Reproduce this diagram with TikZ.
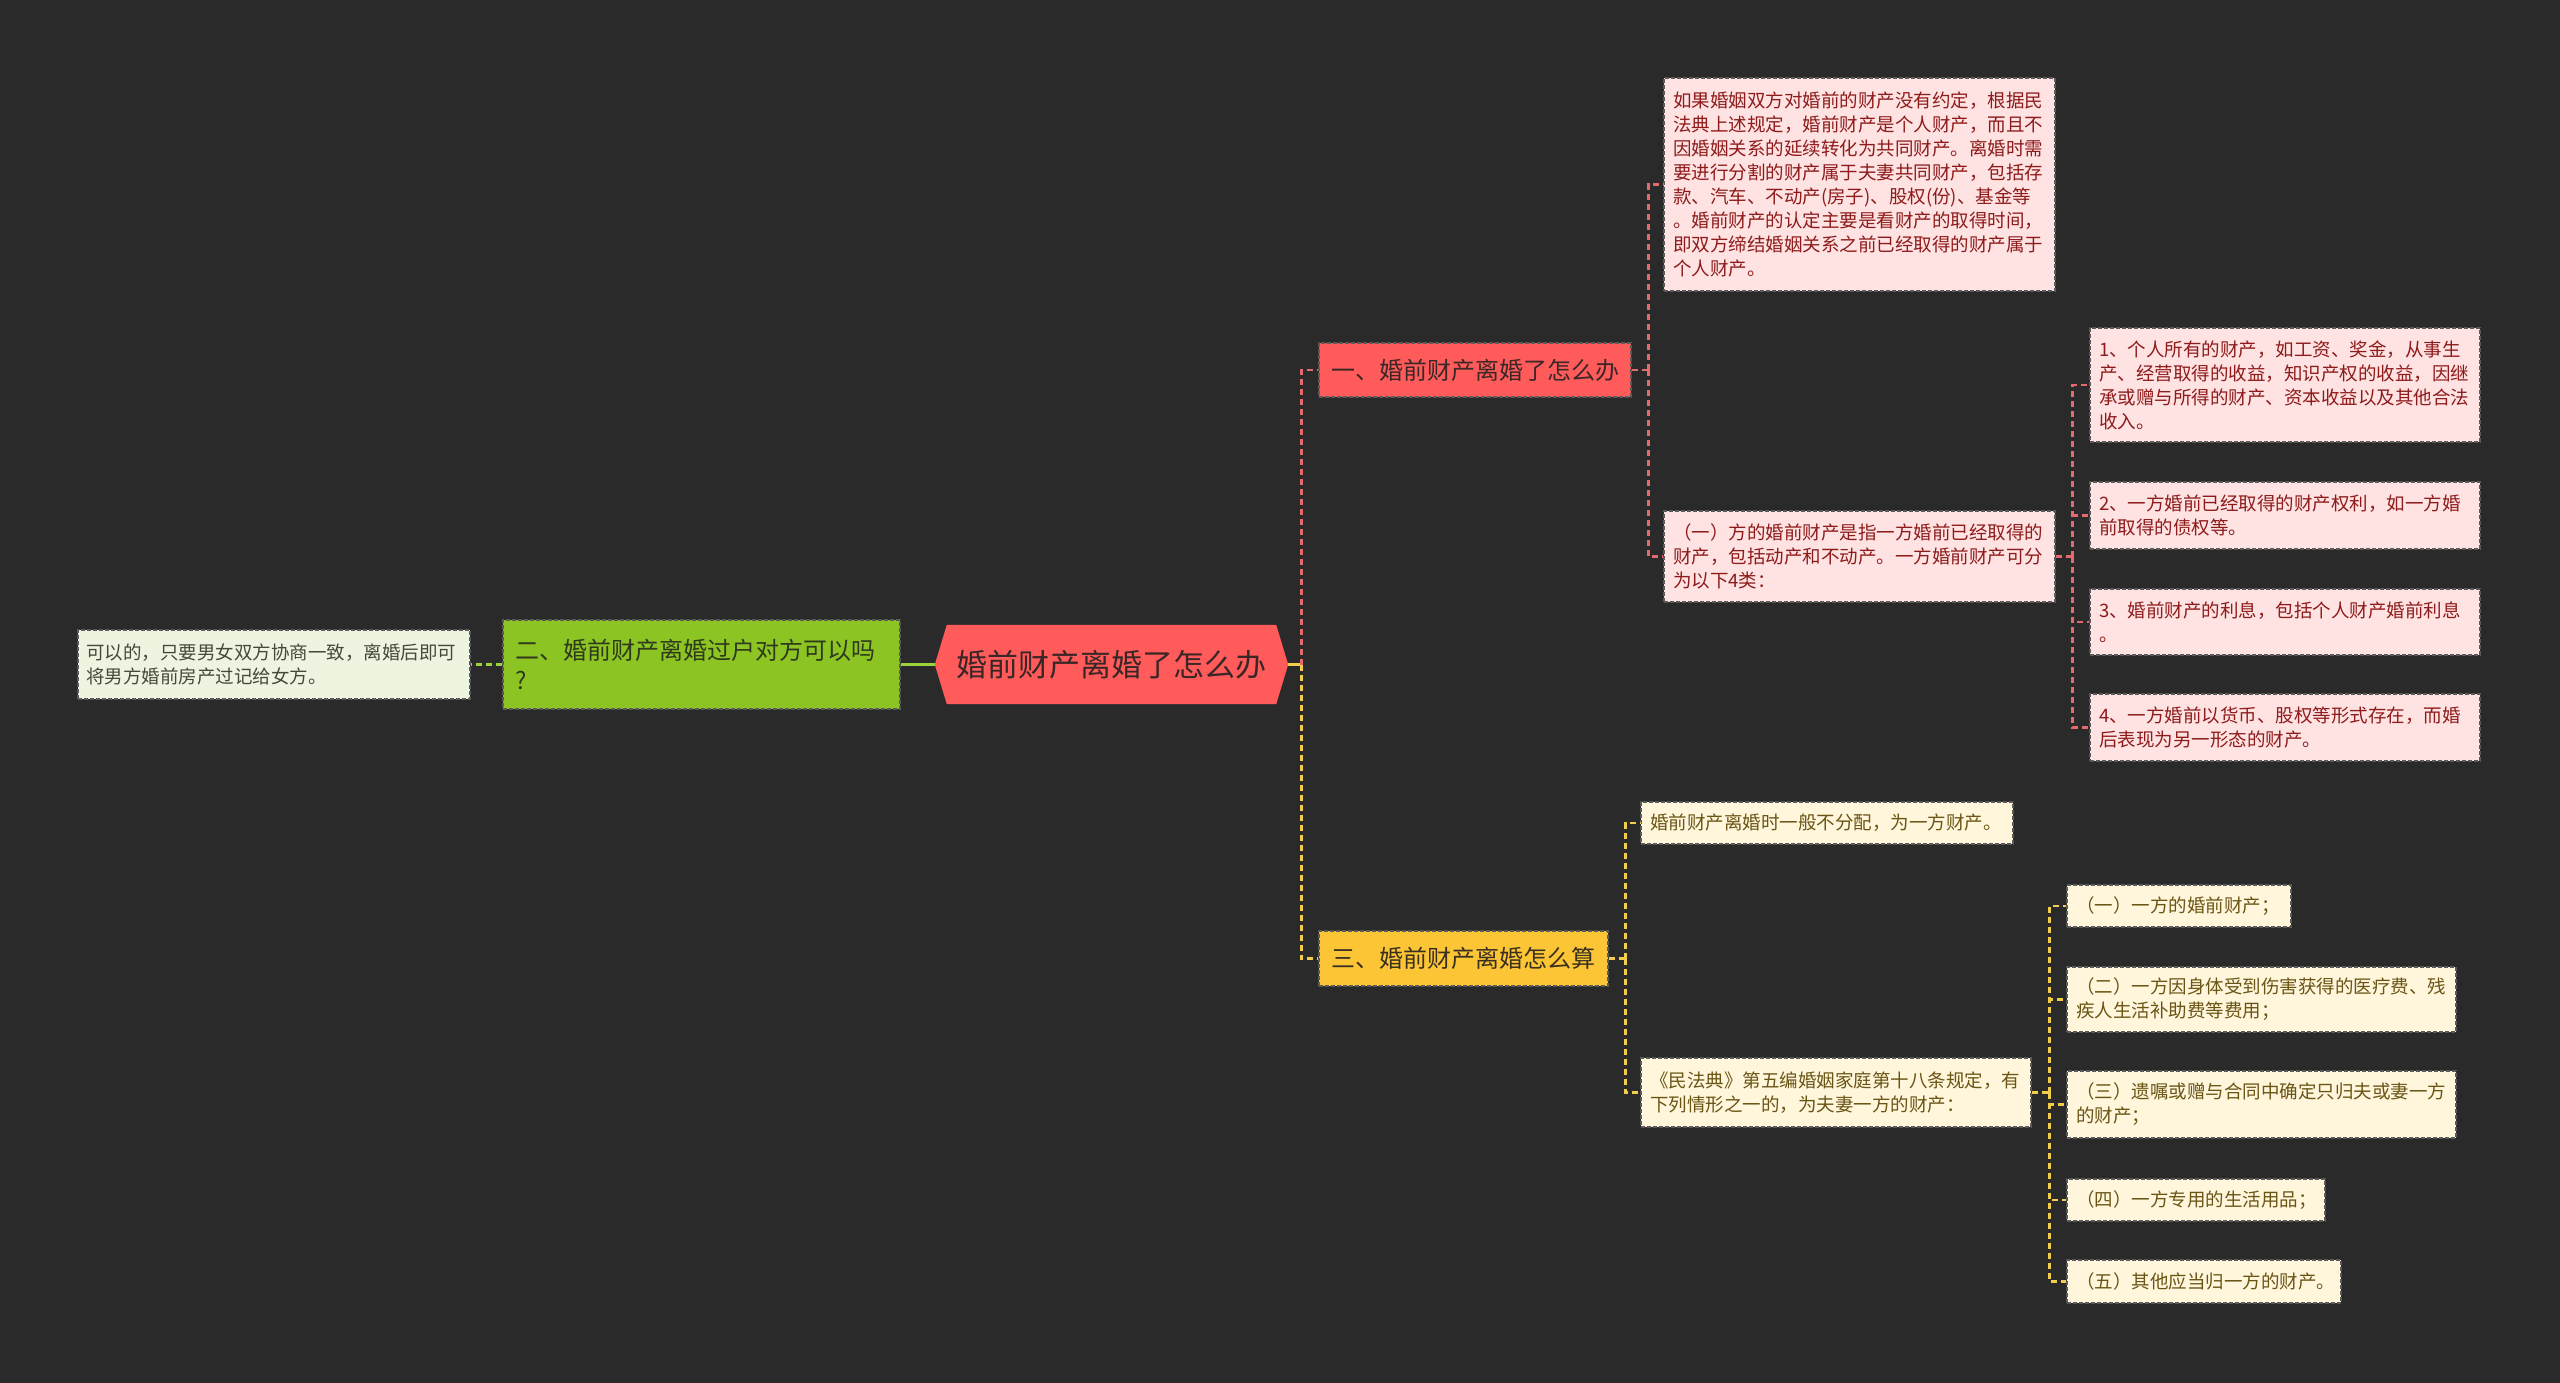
\documentclass[tikz,border=0pt]{standalone}
\usepackage{fontspec}
\newfontfamily\cjk{Noto Sans CJK SC}
\usetikzlibrary{backgrounds,calc}
\definecolor{bgc}{HTML}{2A2A2A}
\definecolor{rfill}{HTML}{FF5B5B}
\definecolor{rleaf}{HTML}{FFE2E2}
\definecolor{rtext}{HTML}{8E1B1B}
\definecolor{rline}{HTML}{E56A6E}
\definecolor{yfill}{HTML}{FCC536}
\definecolor{yleaf}{HTML}{FFF6DC}
\definecolor{ytext}{HTML}{6A5515}
\definecolor{yline}{HTML}{F2CD4C}
\definecolor{gfill}{HTML}{8CC523}
\definecolor{gleaf}{HTML}{EDF5E1}
\definecolor{gtext}{HTML}{45483A}
\definecolor{gline}{HTML}{9BD13A}
\definecolor{bord}{HTML}{5A5A5A}
\definecolor{roottext}{HTML}{3A2626}
\definecolor{b1text}{HTML}{3C2727}
\definecolor{b3text}{HTML}{3A3020}
\definecolor{b2text}{HTML}{2F3A1C}
\begin{document}
\begin{tikzpicture}[x=1pt,y=-1pt,
  box/.style={rectangle, inner sep=0pt, draw=bord, line width=1.4pt, dash pattern=on 4pt off 2pt},
  leaffont/.style={font=\cjk\fontsize{18.5pt}{24pt}\selectfont},
  leafR/.style={box, leaffont, fill=rleaf, text=rtext, align=left},
  leafY/.style={box, leaffont, fill=yleaf, text=ytext, align=left},
  leafG/.style={box, leaffont, fill=gleaf, text=gtext, align=left},
  branch/.style={box, font=\cjk\fontsize{24pt}{30pt}\selectfont},
  conn/.style={line width=2.6pt, dash pattern=on 6pt off 4pt},
  rconn/.style={conn, draw=rline},
  yconn/.style={conn, draw=yline},
  gconn/.style={conn, draw=gline},
]
\begin{pgfonlayer}{background}
\fill[bgc] (0,0) rectangle (2560,1383);
\end{pgfonlayer}

% root
\node[inner sep=0pt, minimum width=353pt, minimum height=79pt, text=roottext,
      font=\cjk\fontsize{31pt}{36pt}\selectfont] (root) at (1111.5,664.5) {婚前财产离婚了怎么办};
\begin{pgfonlayer}{background}
\fill[rfill] (root.west) -- ([xshift=12pt]root.north west) -- ([xshift=-12pt]root.north east)
  -- (root.east) -- ([xshift=-12pt]root.south east) -- ([xshift=12pt]root.south west) -- cycle;
\end{pgfonlayer}

% branches
\node[branch, fill=rfill, text=b1text, minimum width=312pt, minimum height=54pt] (b1) at (1475,370) {一、婚前财产离婚了怎么办};
\node[branch, fill=yfill, text=b3text, minimum width=289pt, minimum height=55pt] (b3) at (1463.5,958.5) {三、婚前财产离婚怎么算};
\node[branch, fill=gfill, text=b2text, minimum width=397pt, minimum height=89pt, text width=373pt, align=left] (b2) at (701.5,664.5) {二、婚前财产离婚过户对方可以吗\\?};

% left leaf
\node[leafG, minimum width=392pt, minimum height=69pt, text width=376pt] (lg) at (274,664.5)
  {可以的，只要男女双方协商一致，离婚后即可\\将男方婚前房产过记给女方。};

% branch 1 leaves
\node[leafR, minimum width=391pt, minimum height=213pt, text width=373pt] (lA) at (1859.5,184.5)
  {如果婚姻双方对婚前的财产没有约定，根据民\\法典上述规定，婚前财产是个人财产，而且不\\因婚姻关系的延续转化为共同财产。离婚时需\\要进行分割的财产属于夫妻共同财产，包括存\\款、汽车、不动产(房子)、股权(份)、基金等\\。婚前财产的认定主要是看财产的取得时间，\\即双方缔结婚姻关系之前已经取得的财产属于\\个人财产。};
\node[leafR, minimum width=391pt, minimum height=91pt, text width=373pt] (lB) at (1859.5,556.5)
  {（一）方的婚前财产是指一方婚前已经取得的\\财产，包括动产和不动产。一方婚前财产可分\\为以下4类：};

\node[leafR, minimum width=390pt, minimum height=114pt, text width=372pt] (c1) at (2285,385)
  {1、个人所有的财产，如工资、奖金，从事生\\产、经营取得的收益，知识产权的收益，因继\\承或赠与所得的财产、资本收益以及其他合法\\收入。};
\node[leafR, minimum width=390pt, minimum height=67pt, text width=372pt] (c2) at (2285,515.5)
  {2、一方婚前已经取得的财产权利，如一方婚\\前取得的债权等。};
\node[leafR, minimum width=390pt, minimum height=66pt, text width=372pt] (c3) at (2285,622)
  {3、婚前财产的利息，包括个人财产婚前利息\\。};
\node[leafR, minimum width=390pt, minimum height=67pt, text width=372pt] (c4) at (2285,727.5)
  {4、一方婚前以货币、股权等形式存在，而婚\\后表现为另一形态的财产。};

% branch 3 leaves
\node[leafY, minimum width=372pt, minimum height=42pt, text width=354pt] (lD) at (1827,823)
  {婚前财产离婚时一般不分配，为一方财产。};
\node[leafY, minimum width=390pt, minimum height=69pt, text width=372pt] (lE) at (1836,1092.5)
  {《民法典》第五编婚姻家庭第十八条规定，有\\下列情形之一的，为夫妻一方的财产：};

\node[leafY, minimum width=224pt, minimum height=42pt, text width=206pt] (f1) at (2179,906)
  {（一）一方的婚前财产；};
\node[leafY, minimum width=389pt, minimum height=65pt, text width=371pt] (f2) at (2261.5,999.5)
  {（二）一方因身体受到伤害获得的医疗费、残\\疾人生活补助费等费用；};
\node[leafY, minimum width=389pt, minimum height=67pt, text width=371pt] (f3) at (2261.5,1104.5)
  {（三）遗嘱或赠与合同中确定只归夫或妻一方\\的财产；};
\node[leafY, minimum width=258pt, minimum height=42pt, text width=240pt] (f4) at (2196,1200)
  {（四）一方专用的生活用品；};
\node[leafY, minimum width=274pt, minimum height=43pt, text width=256pt] (f5) at (2204,1281.5)
  {（五）其他应当归一方的财产。};

% connectors
\coordinate (jr) at ($(root.east)+(13,0)$);
\draw[yline, line width=2.6pt] (root.east) -- (jr);
\draw[rconn] (jr) |- (b1.west);
\draw[yconn] (jr) |- (b3.west);

\draw[gline, line width=2.6pt] (root.west) -- (b2.east);
\draw[gconn] (b2.west) -- (lg.east);

\coordinate (j1) at ($(b1.east)+(17,0)$);
\draw[rconn] (b1.east) -- (j1);
\draw[rconn] (j1) |- (lA.west);
\draw[rconn] (j1) |- (lB.west);

\coordinate (jB) at ($(lB.east)+(17,0)$);
\draw[rconn] (lB.east) -- (jB);
\foreach \n in {c1,c2,c3,c4} \draw[rconn] (jB) |- (\n.west);

\coordinate (j3) at ($(b3.east)+(17,0)$);
\draw[yconn] (b3.east) -- (j3);
\draw[yconn] (j3) |- (lD.west);
\draw[yconn] (j3) |- (lE.west);

\coordinate (jE) at ($(lE.east)+(18,0)$);
\draw[yconn] (lE.east) -- (jE);
\foreach \n in {f1,f2,f3,f4,f5} \draw[yconn] (jE) |- (\n.west);
\end{tikzpicture}
\end{document}
